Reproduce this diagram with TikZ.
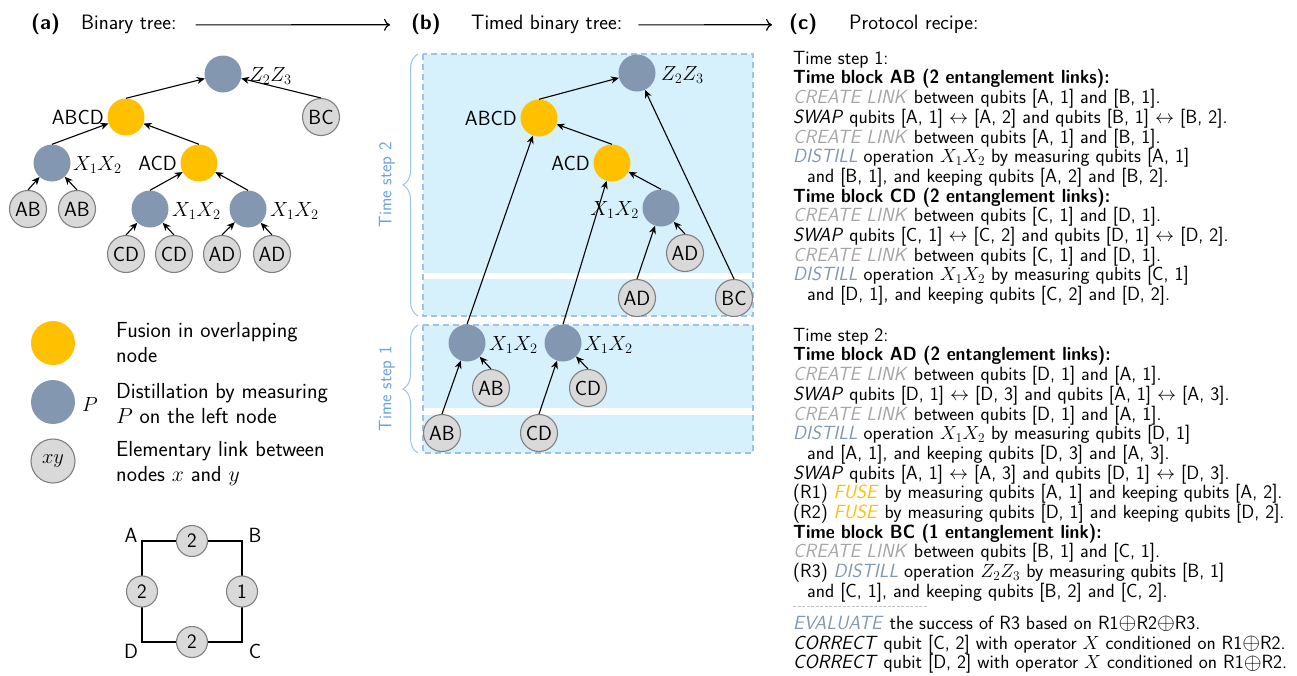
\RequirePackage{fix-cm}
\documentclass[tikz,border=0pt]{standalone}
\usepackage{fontspec}
\usetikzlibrary{arrows.meta,decorations.pathreplacing,calc}
\renewcommand{\familydefault}{\sfdefault}

\definecolor{bgblue}{RGB}{214,240,252}
\definecolor{dashblue}{RGB}{157,195,230}
\definecolor{stepblue}{RGB}{106,164,220}
\definecolor{leafgray}{RGB}{217,217,217}
\definecolor{leafedge}{RGB}{128,128,128}
\definecolor{distblue}{RGB}{132,151,176}
\definecolor{fuseyellow}{RGB}{255,192,0}
\definecolor{creategray}{RGB}{166,166,166}

\newcommand{\rcCreate}{\textcolor{creategray}{\textit{CREATE LINK}}}
\newcommand{\rcSwap}{\textit{SWAP}}
\newcommand{\rcDistill}{\textcolor{distblue}{\textit{DISTILL}}}
\newcommand{\rcFuse}{\textcolor{fuseyellow}{\textit{FUSE}}}
\newcommand{\rcEval}{\textcolor{distblue}{\textit{EVALUATE}}}
\newcommand{\rcCorrect}{\textit{CORRECT}}
\newcommand{\rcIndent}{\hspace*{14pt}}
\newcommand{\rcBlock}[1]{\scalebox{0.918}[1]{\textbf{#1}}}
\newcommand{\rcXor}{\raisebox{-0.5pt}{\scalebox{1.2}{$\oplus$}}}

\tikzset{
  leaf/.style={circle, fill=leafgray, draw=leafedge, line width=1.1pt,
    minimum size=37pt, inner sep=0pt, font=\fontsize{20.5}{24}\selectfont},
  distnode/.style={circle, fill=distblue, minimum size=37pt, inner sep=0pt},
  fusenode/.style={circle, fill=fuseyellow, minimum size=37pt, inner sep=0pt},
  lbl/.style={font=\fontsize{20.5}{24}\selectfont, inner sep=0pt},
  edge/.style={-{Stealth[length=8pt,width=7pt,inset=2.5pt]}, line width=1.1pt},
  hdr/.style={font=\fontsize{20.8}{24}\selectfont, inner sep=0pt, anchor=base west},
  hdrarrow/.style={-{To[length=6pt,width=12pt]}, line width=1.2pt},
  legtext/.style={font=\fontsize{21.8}{25}\selectfont, inner sep=0pt, anchor=west, align=left},
  stepdash/.style={draw=dashblue, line width=1.3pt, dash pattern=on 6pt off 4pt},
  stepbrace/.style={draw=dashblue, line width=1pt, decorate,
    decoration={brace, amplitude=15pt}},
  steplbl/.style={text=stepblue, font=\fontsize{18}{22}\selectfont, inner sep=0pt, rotate=90},
  recipe/.style={font=\fontsize{19.1}{19.7}\selectfont, inner sep=0pt, anchor=north west, align=left},
}

\begin{document}
\begin{tikzpicture}[x=1pt, y=-1pt]
\useasboundingbox (0,0) rectangle (1297,675);

% ---------- headers ----------
\node[hdr] (la) at (31,29) {\textbf{(a)}};
\node[hdr] (ta) at (81,29) {Binary tree:};
\node[hdr] (lb) at (411,29) {\textbf{(b)}};
\node[hdr] (tb) at (471,29) {Timed binary tree:};
\node[hdr] (lc) at (789,29) {\textbf{(c)}};
\node[hdr] (tc) at (849,29) {Protocol recipe:};
\draw[hdrarrow] ([xshift=19pt,yshift=-1pt]ta.east) -- ([xshift=-21pt,yshift=-1pt]lb.west);
\draw[hdrarrow] ([xshift=16pt,yshift=-1pt]tb.east) -- ([xshift=-17pt,yshift=-1pt]lc.west);

% ---------- (a) binary tree ----------
\node[distnode] (aR) at (223,74) {};
\node[lbl, anchor=west] (aRl) at (249,76) {$Z_2Z_3$};
\node[fusenode] (aABCD) at (126,117) {};
\node[lbl, anchor=east] (aABCDl) at (104,117) {ABCD};
\node[leaf] (aBC) at (321,117) {BC};
\node[distnode] (aL) at (52,163) {};
\node[lbl, anchor=west] (aLl) at (73,165) {$X_1X_2$};
\node[fusenode] (aACD) at (199,163) {};
\node[lbl, anchor=east] (aACDl) at (177,163) {ACD};
\node[leaf] (aAB1) at (28,209) {AB};
\node[leaf] (aAB2) at (77,209) {AB};
\node[distnode] (aM) at (150,209) {};
\node[lbl, anchor=west] (aMl) at (172,211) {$X_1X_2$};
\node[distnode] (aN) at (248,209) {};
\node[lbl, anchor=west] (aNl) at (270,211) {$X_1X_2$};
\node[leaf] (aCD1) at (126,254) {CD};
\node[leaf] (aCD2) at (174,254) {CD};
\node[leaf] (aAD1) at (222,254) {AD};
\node[leaf] (aAD2) at (272,254) {AD};

\draw[edge] (aABCD.north) -- (aR);
\draw[edge] (aBC.north) -- (aR);
\draw[edge] (aL.north) -- (aABCD);
\draw[edge] (aACD.north) -- (aABCD);
\draw[edge] (aAB1.north) -- (aL);
\draw[edge] (aAB2.north) -- (aL);
\draw[edge] (aM.north) -- (aACD);
\draw[edge] (aN.north) -- (aACD);
\draw[edge] (aCD1.north) -- (aM);
\draw[edge] (aCD2.north) -- (aM);
\draw[edge] (aAD1.north) -- (aN);
\draw[edge] (aAD2.north) -- (aN);

% ---------- legend ----------
\node[fusenode, minimum size=44pt] (kFuse) at (53,343) {};
\node[distnode, minimum size=44pt] (kDist) at (53,402) {};
\node[lbl, anchor=west] (kP) at (82,404) {$P$};
\node[leaf, minimum size=44pt] (kLeaf) at (53,461) {$xy$};
\node[legtext] (kFuseT) at (116,343) {Fusion in overlapping\\node};
\node[legtext] (kDistT) at (116,404) {Distillation by measuring\\$P$ on the left node};
\node[legtext] (kLeafT) at (116,464) {Elementary link between\\nodes $x$ and $y$};

% ---------- network square ----------
\coordinate (sqA) at (142,541);
\coordinate (sqB) at (242,541);
\coordinate (sqC) at (242,642);
\coordinate (sqD) at (142,642);
\draw[line width=2.6pt] (sqA) -- (sqB) -- (sqC) -- (sqD) -- cycle;
\node[leaf, minimum size=31pt] (sqAB) at ($(sqA)!0.5!(sqB)$) {2};
\node[leaf, minimum size=31pt] (sqBC) at ($(sqB)!0.5!(sqC)$) {1};
\node[leaf, minimum size=31pt] (sqCD) at ($(sqC)!0.5!(sqD)$) {2};
\node[leaf, minimum size=31pt] (sqDA) at ($(sqD)!0.5!(sqA)$) {2};
\node[lbl] (sqAl) at (131,535) {A};
\node[lbl] (sqBl) at (255,535) {B};
\node[lbl] (sqCl) at (255,651) {C};
\node[lbl] (sqDl) at (131,651) {D};

% ---------- (b) timed binary tree ----------
\fill[bgblue] (423,54) rectangle (753,273);
\fill[bgblue] (423,279) rectangle (753,316);
\draw[stepdash] (423,54) rectangle (753,316);
\fill[bgblue] (423,325) rectangle (753,408);
\fill[bgblue] (423,415) rectangle (753,453);
\draw[stepdash] (423,325) rectangle (753,453);
\draw[stepbrace] (418,316) -- (418,54);
\draw[stepbrace] (418,453) -- (418,325);
\node[steplbl] (ts2) at (387,185) {Time step 2};
\node[steplbl] (ts1) at (387,389) {Time step 1};

\node[distnode] (bR) at (637,73) {};
\node[lbl, anchor=west] (bRl) at (661,75) {$Z_2Z_3$};
\node[fusenode] (bABCD) at (539,118) {};
\node[lbl, anchor=east] (bABCDl) at (517,118) {ABCD};
\node[fusenode] (bACD) at (612,163) {};
\node[lbl, anchor=east] (bACDl) at (590,163) {ACD};
\node[distnode] (bX) at (661,208) {};
\node[lbl, anchor=east] (bXl) at (639,210) {$X_1X_2$};
\node[leaf] (bAD1) at (685,253) {AD};
\node[leaf] (bAD2) at (637,298) {AD};
\node[leaf] (bBC) at (734,298) {BC};
\node[distnode] (b1L) at (467,343) {};
\node[lbl, anchor=west] (b1Ll) at (489,345) {$X_1X_2$};
\node[distnode] (b1R) at (563,343) {};
\node[lbl, anchor=west] (b1Rl) at (584,345) {$X_1X_2$};
\node[leaf] (bAB1) at (491,388) {AB};
\node[leaf] (bCD1) at (588,388) {CD};
\node[leaf] (bAB2) at (442,433) {AB};
\node[leaf] (bCD2) at (539,433) {CD};

\draw[edge] (bABCD.north) -- (bR);
\draw[edge] (bBC.north) -- (bR);
\draw[edge] (bACD.north) -- (bABCD);
\draw[edge] (bX.north) -- (bACD);
\draw[edge] (bAD1.north) -- (bX);
\draw[edge] (bAD2.north) -- (bX);
\draw[edge] (b1L.north) -- (bABCD);
\draw[edge] (b1R.north) -- (bACD);
\draw[edge] (bAB2.north) -- (b1L);
\draw[edge] (bAB1.north) -- (b1L);
\draw[edge] (bCD2.north) -- (b1R);
\draw[edge] (bCD1.north) -- (b1R);

% ---------- (c) protocol recipe ----------
\node[recipe] (rec1) at (793,50.8) {%
Time step 1:\\
\rcBlock{Time block AB (2 entanglement links):}\\
\rcCreate{} between qubits [A, 1] and [B, 1].\\
\rcSwap{} qubits [A, 1] $\leftrightarrow$ [A, 2] and qubits [B, 1] $\leftrightarrow$ [B, 2].\\
\rcCreate{} between qubits [A, 1] and [B, 1].\\
\rcDistill{} operation $X_1X_2$ by measuring qubits [A, 1]\\
\rcIndent and [B, 1], and keeping qubits [A, 2] and [B, 2].\\
\rcBlock{Time block CD (2 entanglement links):}\\
\rcCreate{} between qubits [C, 1] and [D, 1].\\
\rcSwap{} qubits [C, 1] $\leftrightarrow$ [C, 2] and qubits [D, 1] $\leftrightarrow$ [D, 2].\\
\rcCreate{} between qubits [C, 1] and [D, 1].\\
\rcDistill{} operation $X_1X_2$ by measuring qubits [C, 1]\\
\rcIndent and [D, 1], and keeping qubits [C, 2] and [D, 2].};

\node[recipe] (rec2) at (793,327.8) {%
Time step 2:\\
\rcBlock{Time block AD (2 entanglement links):}\\
\rcCreate{} between qubits [D, 1] and [A, 1].\\
\rcSwap{} qubits [D, 1] $\leftrightarrow$ [D, 3] and qubits [A, 1] $\leftrightarrow$ [A, 3].\\
\rcCreate{} between qubits [D, 1] and [A, 1].\\
\rcDistill{} operation $X_1X_2$ by measuring qubits [D, 1]\\
\rcIndent and [A, 1], and keeping qubits [D, 3] and [A, 3].\\
\rcSwap{} qubits [A, 1] $\leftrightarrow$ [A, 3] and qubits [D, 1] $\leftrightarrow$ [D, 3].\\
(R1) \rcFuse{} by measuring qubits [A, 1] and keeping qubits [A, 2].\\
(R2) \rcFuse{} by measuring qubits [D, 1] and keeping qubits [D, 2].\\
\rcBlock{Time block BC (1 entanglement link):}\\
\rcCreate{} between qubits [B, 1] and [C, 1].\\
(R3) \rcDistill{} operation $Z_2Z_3$ by measuring qubits [B, 1]\\
\rcIndent and [C, 1], and keeping qubits [B, 2] and [C, 2].};

\draw[creategray!70, line width=0.8pt, dash pattern=on 3pt off 1.5pt] (793,606) -- (927,606);

\node[recipe] (rec3) at (793,615.8) {%
\rcEval{} the success of R3 based on R1\rcXor R2\rcXor R3.\\
\rcCorrect{} qubit [C, 2] with operator $X$ conditioned on R1\rcXor R2.\\
\rcCorrect{} qubit [D, 2] with operator $X$ conditioned on R1\rcXor R2.};
\end{tikzpicture}
\end{document}
